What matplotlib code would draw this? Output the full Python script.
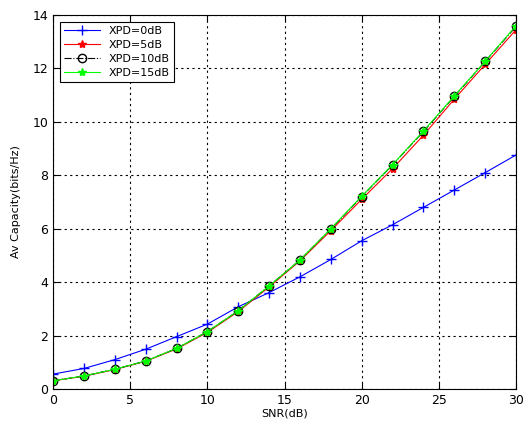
import numpy as np
import matplotlib
matplotlib.use("Agg")
import matplotlib.pyplot as plt

# SNR sweep (dB) and average capacity for each cross-polar discrimination
snr_db = [0, 2, 4, 6, 8, 10, 12, 14, 16, 18, 20, 22, 24, 26, 28, 30]
cap_xpd0 = [0.56, 0.77, 1.10, 1.49, 1.96, 2.43, 3.08, 3.61, 4.20, 4.85, 5.55,
            6.15, 6.80, 7.45, 8.10, 8.76]
cap_xpd5 = [0.31, 0.48, 0.73, 1.04, 1.50, 2.12, 2.90, 3.82, 4.80, 5.93, 7.10,
            8.25, 9.50, 10.85, 12.15, 13.45]
cap_xpd10 = [0.31, 0.49, 0.74, 1.05, 1.52, 2.15, 2.93, 3.86, 4.83, 5.99, 7.20,
             8.39, 9.64, 10.95, 12.26, 13.57]
cap_xpd15 = [0.31, 0.49, 0.74, 1.05, 1.52, 2.15, 2.93, 3.86, 4.83, 6.00, 7.22,
             8.40, 9.66, 10.97, 12.27, 13.60]

x_ticks = [0, 5, 10, 15, 20, 25, 30]
y_ticks = [0, 2, 4, 6, 8, 10, 12, 14]

fig = plt.figure(figsize=(5.25, 4.28), dpi=100)
ax = fig.add_axes([0.101, 0.091, 0.882, 0.874])

ax.plot(snr_db, cap_xpd0, color="blue", linestyle="-", marker="+",
        markersize=7, linewidth=0.8, label="XPD=0dB")
ax.plot(snr_db, cap_xpd5, color="red", linestyle="-", marker="*",
        markersize=6, linewidth=0.8, label="XPD=5dB")
ax.plot(snr_db, cap_xpd10, color="black", linestyle="-.", marker="o",
        markersize=6, markerfacecolor="none", linewidth=0.8, label="XPD=10dB")
ax.plot(snr_db, cap_xpd15, color="#00ff00", linestyle="-", marker="*",
        markersize=6, linewidth=0.8, label="XPD=15dB")

ax.set_xlim(0, 30)
ax.set_ylim(0, 14)
ax.set_xticks(x_ticks)
ax.set_yticks(y_ticks)
ax.tick_params(direction="in", labelsize=9, length=4, top=True, right=True)
ax.grid(True, color="black", linestyle=(0, (2, 3)), linewidth=0.8)

ax.set_xlabel("SNR(dB)", fontsize=8, labelpad=1)
ax.set_ylabel("Av Capacity(bits/Hz)", fontsize=8, labelpad=8)

leg = ax.legend(loc="upper left", fontsize=8, fancybox=False,
                edgecolor="black", framealpha=1, borderaxespad=0.6,
                handlelength=3.2, labelspacing=0.35)
leg.get_frame().set_linewidth(0.8)

fig.savefig("out.png", dpi=100)
